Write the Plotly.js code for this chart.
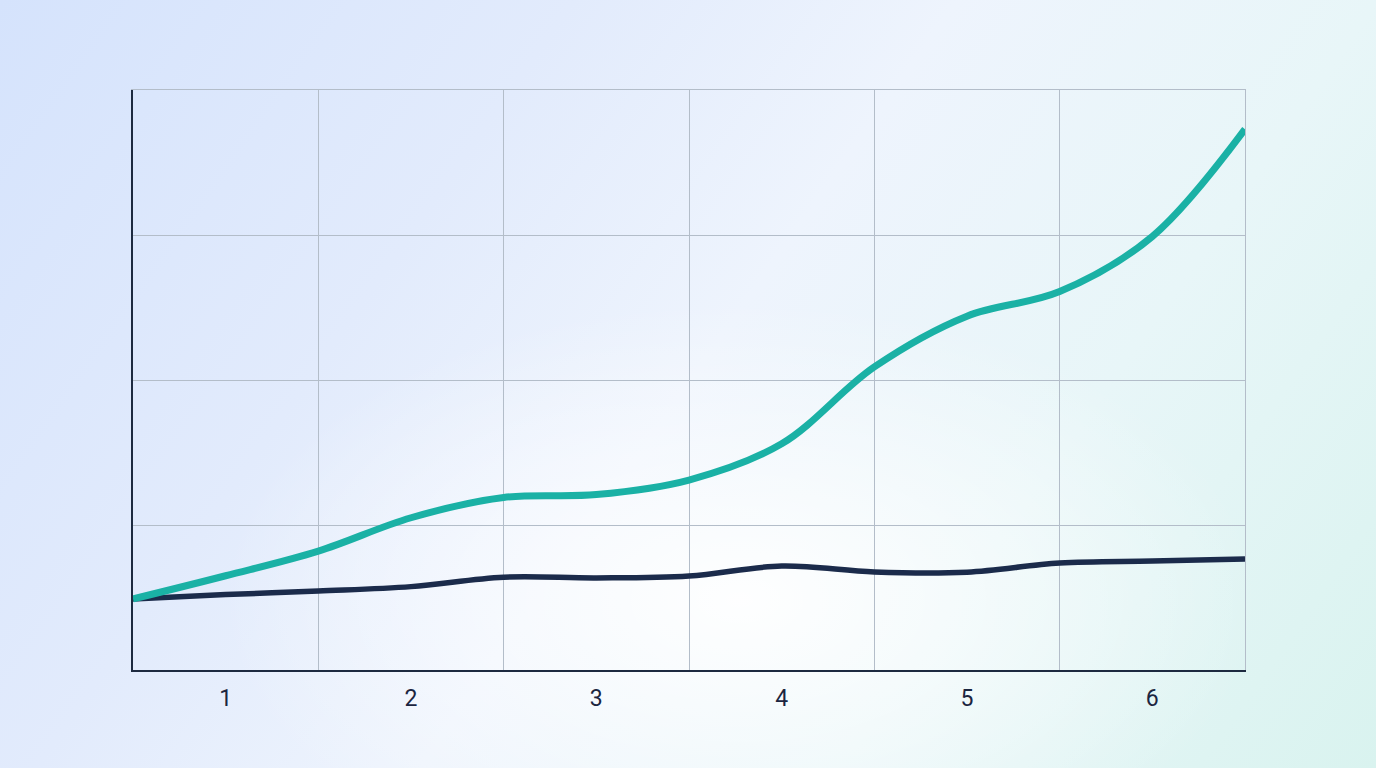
<!DOCTYPE html>
<html>
<head>
<meta charset="utf-8">
<script src="https://cdn.plot.ly/plotly-3.0.1.min.js"></script>
<style>
  html, body { margin: 0; padding: 0; }
  body {
    width: 1376px; height: 768px; overflow: hidden;
    background:
      radial-gradient(ellipse 520px 300px at 740px 600px, rgba(255,255,255,0.95), rgba(255,255,255,0) 100%),
      linear-gradient(125deg, #d5e3fc 0%, #e2ebfc 30%, #eef4fd 50%, #e8f6f8 72%, #d9f3ef 100%);
  }
  #chart { width: 1376px; height: 768px; }
</style>
</head>
<body>
<div id="chart"></div>
<script>
// x positions: category centres are 1..6, boundaries sit on the half steps
var xs = [0.5, 1, 1.5, 2, 2.5, 3, 3.5, 4, 4.5, 5, 5.5, 6, 6.5];
var teal = [0.49, 0.65, 0.82, 1.05, 1.19, 1.21, 1.31, 1.56, 2.09, 2.44, 2.61, 2.99, 3.73];
var navy = [0.49, 0.52, 0.545, 0.575, 0.64, 0.635, 0.648, 0.717, 0.676, 0.675, 0.738, 0.752, 0.766];
var tickLabels = ["1", "2", "3", "4", "5", "6"];
var tickPos = [1, 2, 3, 4, 5, 6];
var gridPos = [1.5, 2.5, 3.5, 4.5, 5.5, 6.5];

var data = [
  { // invisible, just so the x2/y2 grid axes get drawn
    type: "scatter", mode: "lines", x: xs, y: navy, xaxis: "x2", yaxis: "y2",
    line: {width: 0}, opacity: 0, hoverinfo: "skip"
  },
  {
    type: "scatter", mode: "lines", x: xs, y: navy,
    line: {color: "#1b2b4b", width: 5.5, shape: "spline", smoothing: 1},
    hoverinfo: "skip"
  },
  {
    type: "scatter", mode: "lines", x: xs, y: teal,
    line: {color: "#1ab1a5", width: 7, shape: "spline", smoothing: 1},
    hoverinfo: "skip"
  }
];

var grid = "#b3bdc9";
var layout = {
  width: 1376, height: 768,
  margin: {l: 133, r: 131, t: 90, b: 98},
  paper_bgcolor: "rgba(0,0,0,0)",
  plot_bgcolor: "rgba(0,0,0,0)",
  showlegend: false,
  font: {family: "Roboto, Inter, sans-serif", color: "#1b2540"},
  xaxis: {
    range: [0.5, 6.5], tickvals: tickPos, ticktext: tickLabels,
    showgrid: false, zeroline: false, ticks: "",
    showline: true, linecolor: "#1d2a40", linewidth: 2,
    tickfont: {size: 23, color: "#1b2540"}, ticklabelstandoff: 6
  },
  xaxis2: { // grid at category boundaries + top border
    overlaying: "x", side: "top", range: [0.5, 6.5],
    tickvals: gridPos, showticklabels: false, ticks: "",
    showgrid: true, gridcolor: grid, gridwidth: 1,
    zeroline: false, showline: true, linecolor: grid, linewidth: 1
  },
  yaxis: {
    range: [0, 4], dtick: 1, showticklabels: false, ticks: "",
    showgrid: true, gridcolor: grid, gridwidth: 1,
    zeroline: false, showline: true, linecolor: "#1d2a40", linewidth: 2
  },
  yaxis2: {
    overlaying: "y", side: "right", range: [0, 4],
    showticklabels: false, ticks: "", showgrid: false, zeroline: false,
    showline: true, linecolor: grid, linewidth: 1
  }
};

Plotly.newPlot("chart", data, layout, {displayModeBar: false, staticPlot: true});
</script>
</body>
</html>
